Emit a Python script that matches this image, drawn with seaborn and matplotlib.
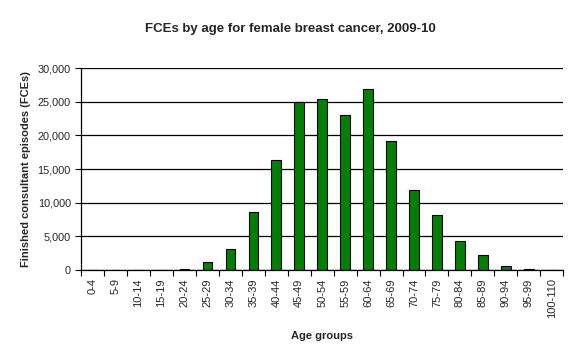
import numpy as np
import pandas as pd
import matplotlib
matplotlib.use("Agg")
import matplotlib.pyplot as plt
from matplotlib.ticker import FuncFormatter, FixedLocator
import seaborn as sns

age_groups = ["0-4", "5-9", "10-14", "15-19", "20-24", "25-29", "30-34", "35-39",
              "40-44", "45-49", "50-54", "55-59", "60-64", "65-69", "70-74",
              "75-79", "80-84", "85-89", "90-94", "95-99", "100-110"]
fces = [0, 0, 0, 0, 120, 1200, 3100, 8600, 16400, 24900, 25400, 23000, 26900,
        19200, 11900, 8200, 4300, 2200, 600, 150, 0]

df = pd.DataFrame({"Age": age_groups, "FCEs": fces})

sns.set_theme(style="white")
plt.rcParams["font.family"] = ["Liberation Sans", "DejaVu Sans"]

fig = plt.figure(figsize=(5.8, 3.6), dpi=100)
ax = fig.add_axes([0.140, 0.25, 0.831, 0.561])

sns.barplot(data=df, x="Age", y="FCEs", color="#008000", saturation=1,
            width=0.42, edgecolor="black", linewidth=0.8, ax=ax)

ax.set_ylim(0, 30000)
ax.set_xlim(-0.5, len(age_groups) - 0.5)
ax.set_yticks(np.arange(0, 30001, 5000))
ax.yaxis.set_major_formatter(FuncFormatter(lambda v, p: "{:,.0f}".format(v)))
ax.yaxis.grid(True, color="black", linewidth=0.9)
ax.xaxis.grid(False)
ax.set_axisbelow(True)

for s in ["top", "right"]:
    ax.spines[s].set_visible(False)
for s in ["left", "bottom"]:
    ax.spines[s].set_color("black")
    ax.spines[s].set_linewidth(0.9)

# ticks at category boundaries, labels centred
ax.set_xticks(np.arange(len(age_groups)))
ax.set_xticklabels(age_groups, rotation=90, fontsize=8)
ax.xaxis.set_minor_locator(FixedLocator(np.arange(-0.5, len(age_groups), 1)))
ax.tick_params(axis="x", which="major", length=0, pad=6)
ax.tick_params(axis="x", which="minor", bottom=True, length=4, color="black", width=0.8)
ax.tick_params(axis="y", left=True, length=4, color="black", width=0.8, labelsize=7.8)

ax.set_xlabel("Age groups", fontsize=8, fontweight="bold", labelpad=9)
ax.set_ylabel("Finished consultant episodes (FCEs)", fontsize=8, fontweight="bold", labelpad=5)
fig.suptitle("FCEs by age for female breast cancer, 2009-10", fontsize=9.5,
             fontweight="bold", y=0.935)

fig.savefig("out.png", dpi=100, facecolor="white")
